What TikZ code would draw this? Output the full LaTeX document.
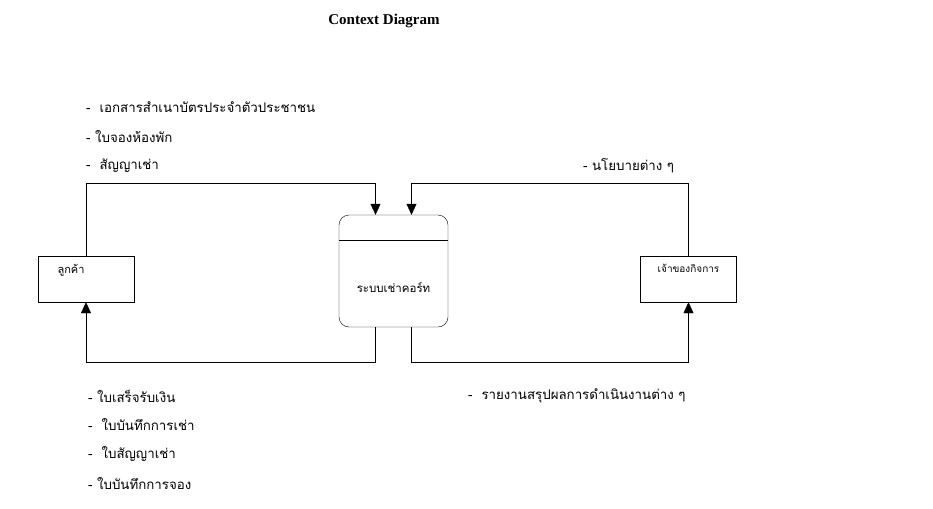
\documentclass[tikz,border=0pt]{standalone}
\usepackage{fontspec}
\setmainfont{Liberation Serif}
\newfontfamily\thaifont[Script=Thai]{Loma}
\usetikzlibrary{arrows.meta,positioning}

\begin{document}
\begin{tikzpicture}[x=1pt,y=-1pt,
		flow/.style={draw,-{Triangle[width=10pt,length=11pt]}},
		entity/.style={draw,minimum width=96pt,minimum height=46pt,inner sep=0pt},
		label/.style={anchor=west,inner sep=0pt,font=\thaifont\fontsize{13.3}{15}\selectfont}]
			\useasboundingbox (0,0) rectangle (933,508);
			\def\gap{18pt}
			
			\node[font=\bfseries\fontsize{15}{17}\selectfont] (title) at (384,20.5) {Context Diagram};
			
			% external entities and the process
			\node[entity] (cust) at (86,279) {};
			\node[entity] (owner) at (688.5,279) {};
			\node[draw,rounded corners=10pt,minimum width=109pt,minimum height=112pt,inner sep=0pt] (proc) at (393.5,271) {};
			\draw ([yshift=-25pt]proc.north west) -- ([yshift=-25pt]proc.north east);
			
			\node[font=\thaifont\fontsize{11}{13}\selectfont,anchor=north] (custtxt) at ([yshift=-5pt,xshift=-15pt]cust.north) {ลูกค้า};
			\node[font=\thaifont\fontsize{10}{12}\selectfont,anchor=north] (ownertxt) at ([yshift=-5pt]owner.north) {เจ้าของกิจการ};
			\node[font=\thaifont\fontsize{11.5}{13}\selectfont] (proctxt) at (393.5,287) {ระบบเช่าคอร์ท};
			
			\coordinate (inA) at ([xshift=-\gap]proc.north);
			\coordinate (inB) at ([xshift=\gap]proc.north);
			\coordinate (outA) at ([xshift=-\gap]proc.south);
			\coordinate (outB) at ([xshift=\gap]proc.south);
			
			% data flows
			\draw[flow] (cust.north) |- ([yshift=32pt]inA) -- (inA);
			\draw[flow] (owner.north) |- ([yshift=32pt]inB) -- (inB);
			\draw[flow] (outA) -- ([yshift=-35pt]outA) -| (cust.south);
			\draw[flow] (outB) -- ([yshift=-35pt]outB) -| (owner.south);
			
			\node[label] (l1) at (86,107) {-\ \ เอกสารสำเนาบัตรประจำตัวประชาชน};
			\node[label] (l2) at (86,137) {- ใบจองห้องพัก};
			\node[label] (l3) at (86,166) {-\ \ สัญญาเช่า};
			\node[label] (l4) at (583,166) {- นโยบายต่าง ๆ};
			
			\node[label] (b1) at (88,396) {- ใบเสร็จรับเงิน};
			\node[label] (b2) at (88,425) {-\ \ ใบบันทึกการเช่า};
			\node[label] (b3) at (88,454) {-\ \ ใบสัญญาเช่า};
			\node[label] (b4) at (88,484) {- ใบบันทึกการจอง};
			\node[label] (r1) at (468,396) {-\ \ รายงานสรุปผลการดำเนินงานต่าง ๆ};
		\end{tikzpicture}
\end{document}
